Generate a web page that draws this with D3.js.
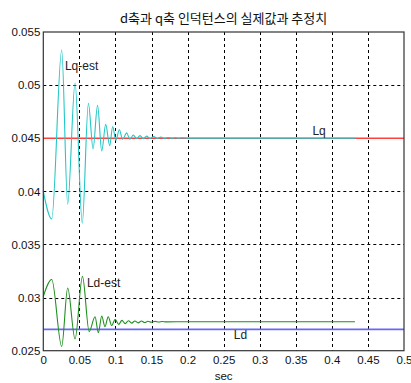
<!DOCTYPE html>
<html>
<head>
<meta charset="utf-8">
<script src="https://cdn.jsdelivr.net/npm/d3@7"></script>
<style>
  html, body { margin: 0; padding: 0; background: #fff; }
  svg { display: block; }
  .tick-label { font-family: "Liberation Sans", Arial, sans-serif; font-size: 11.5px; fill: #111; }
  .ann { font-family: "Liberation Sans", Arial, sans-serif; font-size: 12px; fill: #222; }
</style>
</head>
<body>
<script>
// Reference inductances (H)
const lqTrue = 0.045;
const ldTrue = 0.027;

// Estimated q-axis inductance: time (s) and value (H)
const lqEstTime = [0, 0.0117, 0.0255, 0.0338, 0.0440, 0.0540, 0.0625, 0.0690, 0.0752, 0.0810,
  0.0865, 0.0920, 0.0962, 0.1005, 0.1054, 0.1100, 0.1156, 0.1200, 0.1248, 0.1295,
  0.1340, 0.1385, 0.1433, 0.1480, 0.1530, 0.1580, 0.1630, 0.1680, 0.1730, 0.1780,
  0.1830, 0.1880, 0.1930, 0.2000, 0.4320];
const lqEstValue = [0.0400, 0.0374, 0.0533, 0.0388, 0.0502, 0.0370, 0.0483, 0.0440, 0.0481, 0.0438,
  0.0463, 0.0443, 0.0461, 0.0448, 0.0458, 0.0449, 0.0455, 0.04490, 0.0453, 0.04495,
  0.04525, 0.04495, 0.0452, 0.04497, 0.04515, 0.04498, 0.0451, 0.04499, 0.04507, 0.04500,
  0.04505, 0.04500, 0.04503, 0.04500, 0.04500];

// Estimated d-axis inductance: time (s) and value (H)
const ldEstTime = [0, 0.0117, 0.0255, 0.0338, 0.0440, 0.0543, 0.0636, 0.0717, 0.0763, 0.0810,
  0.0855, 0.0900, 0.0948, 0.0995, 0.1045, 0.1090, 0.1135, 0.1180, 0.1225, 0.1270,
  0.1315, 0.1360, 0.1405, 0.1450, 0.1500, 0.1550, 0.1600, 0.1650, 0.1700, 0.2000, 0.4320];
const ldEstValue = [0.0301, 0.0317, 0.0254, 0.0309, 0.0261, 0.0320, 0.0268, 0.0282, 0.0267, 0.02826,
  0.02726, 0.0282, 0.02735, 0.02795, 0.02748, 0.02785, 0.02755, 0.02782, 0.02760, 0.02780,
  0.02762, 0.02779, 0.02765, 0.02777, 0.02768, 0.02776, 0.02770, 0.02775, 0.02771, 0.02773, 0.02773];

// Axis ticks
const xTicks = [0, 0.05, 0.1, 0.15, 0.2, 0.25, 0.3, 0.35, 0.4, 0.45, 0.5];
const xTickLabels = ["0", "0.05", "0.1", "0.15", "0.2", "0.25", "0.3", "0.35", "0.4", "0.45", "0.5"];
const yTicks = [0.025, 0.03, 0.035, 0.04, 0.045, 0.05, 0.055];
const yTickLabels = ["0.025", "0.03", "0.035", "0.04", "0.045", "0.05", "0.055"];

const titleText = "d축과 q축 인덕턴스의 실제값과 추정치";
const xLabelText = "sec";

const W = 411, H = 383;
const plot = { left: 43.3, right: 404, top: 32, bottom: 350.7 };

const svg = d3.select("body").append("svg")
  .attr("width", W).attr("height", H);

const x = d3.scaleLinear().domain([0, 0.5]).range([plot.left, plot.right]);
const y = d3.scaleLinear().domain([0.025, 0.055]).range([plot.bottom, plot.top]);

// Dotted grid
const grid = svg.append("g").attr("stroke", "#000").attr("stroke-width", 1)
  .attr("stroke-dasharray", "3,3");
grid.selectAll("line.gx").data(xTicks.slice(1, -1)).join("line")
  .attr("x1", d => Math.round(x(d)) + 0.5).attr("x2", d => Math.round(x(d)) + 0.5)
  .attr("y1", plot.top).attr("y2", plot.bottom);
grid.selectAll("line.gy").data(yTicks.slice(1, -1)).join("line")
  .attr("y1", d => Math.round(y(d)) + 0.5).attr("y2", d => Math.round(y(d)) + 0.5)
  .attr("x1", plot.left).attr("x2", plot.right);

// Reference lines
svg.append("line")
  .attr("x1", x(0)).attr("x2", x(0.5))
  .attr("y1", y(lqTrue)).attr("y2", y(lqTrue))
  .attr("stroke", "#ff4040").attr("stroke-width", 1.3);
svg.append("line")
  .attr("x1", x(0)).attr("x2", x(0.5))
  .attr("y1", y(ldTrue)).attr("y2", y(ldTrue))
  .attr("stroke", "#6868f4").attr("stroke-width", 1.8);

// Estimated curves
const line = d3.line().curve(d3.curveMonotoneX);
const lqPts = lqEstTime.map((t, i) => [x(t), y(lqEstValue[i])]);
const ldPts = ldEstTime.map((t, i) => [x(t), y(ldEstValue[i])]);

svg.append("path").attr("d", line(lqPts))
  .attr("fill", "none").attr("stroke", "#22c6c6").attr("stroke-width", 1.1);
svg.append("path").attr("d", line(ldPts))
  .attr("fill", "none").attr("stroke", "#1f8f1f").attr("stroke-width", 1.1);

// Frame
svg.append("rect")
  .attr("x", plot.left).attr("y", plot.top)
  .attr("width", plot.right - plot.left).attr("height", plot.bottom - plot.top)
  .attr("fill", "none").attr("stroke", "#333").attr("stroke-width", 1.2);

// Axes (labels only)
const xAxis = d3.axisBottom(x).tickValues(xTicks)
  .tickFormat((d, i) => xTickLabels[i]).tickSize(0).tickPadding(5);
const gx = svg.append("g").attr("transform", `translate(0,${plot.bottom})`).call(xAxis);
gx.select(".domain").remove();
gx.selectAll("text").attr("class", "tick-label").attr("font-family", null).attr("font-size", null);

const yAxis = d3.axisLeft(y).tickValues(yTicks)
  .tickFormat((d, i) => yTickLabels[i]).tickSize(0).tickPadding(3);
const gy = svg.append("g").attr("transform", `translate(${plot.left},0)`).call(yAxis);
gy.select(".domain").remove();
gy.selectAll("text").attr("class", "tick-label").attr("font-family", null).attr("font-size", null);

// Title and axis label
svg.append("text")
  .attr("x", (plot.left + plot.right) / 2).attr("y", 23)
  .attr("text-anchor", "middle")
  .attr("font-family", "'Noto Sans CJK KR', sans-serif").attr("font-size", 13)
  .attr("fill", "#111")
  .text(titleText);
svg.append("text")
  .attr("x", (plot.left + plot.right) / 2).attr("y", 380)
  .attr("text-anchor", "middle").attr("class", "tick-label")
  .text(xLabelText);

// Curve annotations
const annotations = [
  { text: "Lq-est", t: 0.0300, v: 0.0514 },
  { text: "Ld-est", t: 0.0605, v: 0.0310 },
  { text: "Lq",     t: 0.3730, v: 0.04528 },
  { text: "Ld",     t: 0.2640, v: 0.02610 }
];
svg.selectAll("text.ann").data(annotations).join("text")
  .attr("class", "ann")
  .attr("x", d => x(d.t)).attr("y", d => y(d.v))
  .text(d => d.text);
</script>
</body>
</html>
